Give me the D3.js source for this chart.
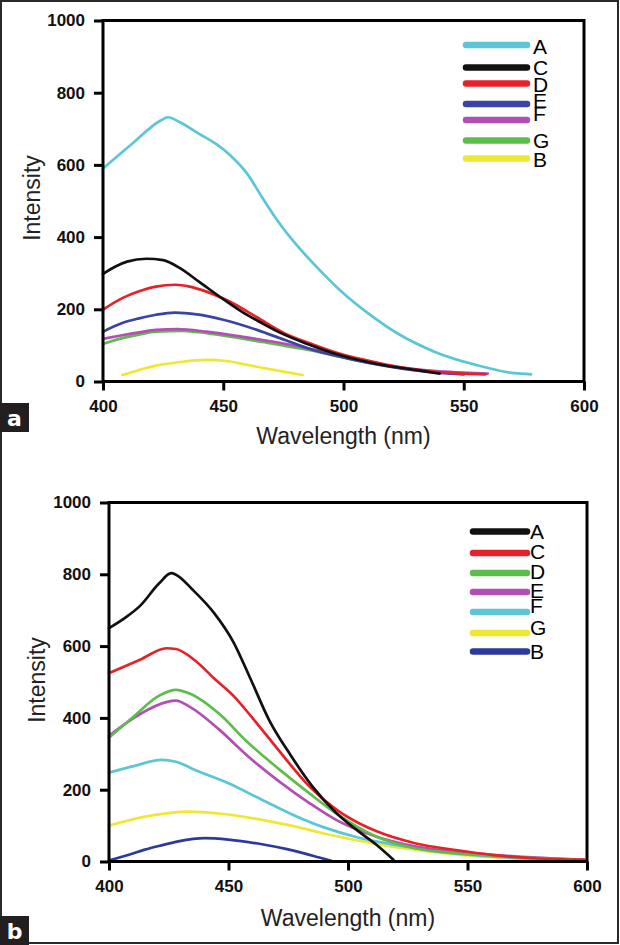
<!DOCTYPE html>
<html><head><meta charset="utf-8">
<script src="https://cdn.jsdelivr.net/npm/d3@7"></script>
<style>html,body{margin:0;padding:0;background:#fff;}svg{display:block;}</style>
</head><body>
<svg id="chart" width="620" height="945"></svg>
<script>
// ---------- DATA ----------
const xTicks = [400, 450, 500, 550, 600];
const yTicks = [0, 200, 400, 600, 800, 1000];
const legendLabels = ["A", "C", "D", "E", "F", "G", "B"];

// Panel a : [wavelength nm, intensity]
const a_A = [[400,590],[412,658],[424,723],[427,732],[432,718],[440,686],[447,658],[453,626],[460,575],[466,512],[472,451],[479,390],[489,316],[499,250],[510,190],[522,135],[538,82],[555,46],[571,23],[578,20]];
const a_C = [[400,298],[405,318],[410,332],[418,340],[425,336],[432,314],[440,276],[450,228],[458,192],[466,162],[474,134],[485,104],[498,74],[513,50],[530,32],[540,22]];
const a_D = [[400,199],[408,231],[415,250],[422,263],[430,268],[436,263],[443,249],[453,220],[464,178],[476,132],[486,106],[499,76],[510,58],[522,41],[538,27],[550,22],[559,20]];
const a_E = [[400,138],[408,162],[415,175],[422,185],[430,191],[439,186],[450,171],[464,143],[476,114],[487,88],[499,68],[510,52],[525,35],[540,24],[550,20]];
const a_F = [[400,118],[408,128],[415,136],[422,143],[431,145],[443,138],[457,125],[471,110],[485,92],[499,72],[512,52],[525,38],[540,28],[552,24],[560,22]];
const a_G = [[400,104],[408,120],[415,130],[422,138],[433,140],[443,134],[457,120],[471,104],[485,88],[499,68],[512,50],[525,36],[538,26]];
const a_B = [[408,18],[415,32],[422,44],[430,52],[443,60],[452,56],[460,46],[471,32],[483,18]];

// Panel b
const b_A = [[400,650],[407,680],[413,712],[421,775],[426,803],[428,799],[435,757],[444,692],[452,612],[459,512],[467,394],[476,296],[485,210],[495,136],[504,86],[512,46],[519,5]];
const b_C = [[400,525],[413,562],[424,594],[428,592],[436,560],[444,510],[452,462],[460,400],[470,318],[484,208],[495,145],[505,105],[512,84],[528,51],[545,32],[561,18],[578,9],[599,5]];
const b_D = [[400,345],[410,402],[421,462],[428,478],[434,467],[446,412],[458,332],[471,258],[484,189],[495,134],[512,69],[528,37],[545,23],[570,12],[598,4]];
const b_E = [[400,350],[413,411],[424,444],[428,448],[434,430],[446,368],[458,294],[471,224],[484,162],[495,116],[512,69],[528,42],[553,23],[575,12],[598,5]];
const b_F = [[400,248],[410,265],[422,283],[428,278],[436,255],[450,218],[464,172],[478,127],[490,95],[503,69],[520,46],[537,28],[553,18],[575,8],[598,4]];
const b_G = [[400,100],[415,125],[425,135],[433,139],[447,133],[464,116],[478,97],[490,78],[503,60],[515,45],[528,33],[545,20],[565,10],[598,4]];
const b_B = [[400,3],[408,18],[415,33],[422,45],[429,56],[440,65],[450,61],[464,48],[474,35],[482,22],[488,11],[493,2]];

const colA = {A:"#5cc6d6", C:"#111111", D:"#e62228", E:"#3a44a6", F:"#b24fb4", G:"#5dbd4a", B:"#f0e830"};
const colB = {A:"#111111", C:"#e62228", D:"#5dbd4a", E:"#b24fb4", F:"#5cc6d6", G:"#f0e830", B:"#2c3a9c"};

const panels = [
  {series:{A:a_A,C:a_C,D:a_D,E:a_E,F:a_F,G:a_G,B:a_B}, colors:colA, x0:103, x1:584, y0:381.5, y1:20.5,
   legendX0:466, legendX1:527, legendY:[45,67.5,83.5,104,120,140.5,158.5],
   letterY:[46,67,84.5,100,113,140,159], letterX:533, tag:"a", tagY:403,
   ytitleX:32, ytitleY:198, xtitleY:444},
  {series:{A:b_A,C:b_C,D:b_D,E:b_E,F:b_F,G:b_G,B:b_B}, colors:colB, x0:109, x1:587, y0:861.5, y1:502.5,
   legendX0:473, legendX1:527, legendY:[531.5,553,573,592,612,633,651.5],
   letterY:[531,551.5,571.5,590.5,605,627.5,651], letterX:530, tag:"b", tagY:916,
   ytitleX:37, ytitleY:680, xtitleY:926}
];

const svg = d3.select("#chart");
// outer border
svg.append("rect").attr("x",1).attr("y",1).attr("width",617).attr("height",942)
  .attr("fill","none").attr("stroke","#2a2a2a").attr("stroke-width",2);

panels.forEach(p => {
  const x = d3.scaleLinear().domain([400,600]).range([p.x0,p.x1]);
  const y = d3.scaleLinear().domain([0,1000]).range([p.y0,p.y1]);
  const g = svg.append("g");

  const line = d3.line().x(d=>x(d[0])).y(d=>y(d[1])).curve(d3.curveMonotoneX);
  legendLabels.slice().reverse().forEach(k => {
    g.append("path").datum(p.series[k]).attr("d", line)
      .attr("fill","none").attr("stroke", p.colors[k]).attr("stroke-width", 2.7)
      .attr("stroke-linejoin","round").attr("stroke-linecap","round");
  });

  // frame
  g.append("rect").attr("x",p.x0).attr("y",p.y1).attr("width",p.x1-p.x0).attr("height",p.y0-p.y1)
    .attr("fill","none").attr("stroke","#000").attr("stroke-width",3);

  // axes
  const yAxis = d3.axisLeft(y).tickValues(yTicks).tickSize(9).tickPadding(9).tickFormat(d3.format("d"));
  const yg = g.append("g").attr("transform",`translate(${p.x0},0)`).call(yAxis);
  const xAxis = d3.axisBottom(x).tickValues(xTicks).tickSize(9).tickPadding(9).tickFormat(d3.format("d"));
  const xg = g.append("g").attr("transform",`translate(0,${p.y0})`).call(xAxis);
  [yg,xg].forEach(a=>{
    a.select(".domain").remove();
    a.selectAll(".tick line").attr("stroke","#000").attr("stroke-width",3);
    a.selectAll(".tick text").attr("fill","#111").style("font-family","'Liberation Sans',Arial,sans-serif")
      .style("font-weight","bold").style("font-size","17px");
  });

  // axis titles
  g.append("text").attr("transform",`translate(${p.ytitleX},${p.ytitleY}) rotate(-90)`)
    .attr("text-anchor","middle").attr("dominant-baseline","central")
    .style("font-family","'Liberation Sans',Arial,sans-serif").style("font-size","23px").attr("fill","#222")
    .text("Intensity");
  g.append("text").attr("x",(p.x0+p.x1)/2).attr("y",p.xtitleY).attr("text-anchor","middle")
    .style("font-family","'Liberation Sans',Arial,sans-serif").style("font-size","23px").attr("fill","#222")
    .text("Wavelength (nm)");

  // legend
  legendLabels.forEach((k,i) => {
    g.append("line").attr("x1",p.legendX0).attr("x2",p.legendX1)
      .attr("y1",p.legendY[i]).attr("y2",p.legendY[i])
      .attr("stroke",p.colors[k]).attr("stroke-width",6.5).attr("stroke-linecap","round");
    g.append("text").attr("x",p.letterX).attr("y",p.letterY[i]).attr("dominant-baseline","central")
      .style("font-family","'Liberation Sans',Arial,sans-serif").style("font-size","21px").attr("fill","#000")
      .text(k);
  });

  // panel tag
  svg.append("rect").attr("x",0).attr("y",p.tagY).attr("width",29).attr("height",29).attr("fill","#231f20");
  svg.append("text").attr("x",14.5).attr("y",p.tagY+15).attr("text-anchor","middle").attr("dominant-baseline","central")
    .style("font-family","'DejaVu Sans',sans-serif").style("font-weight","bold").style("font-size","22px")
    .attr("fill","#fff").text(p.tag);
});
</script>
</body></html>
